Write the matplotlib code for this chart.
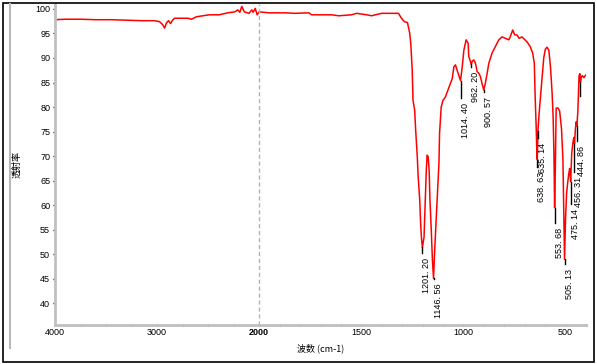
import numpy as np
import matplotlib
matplotlib.use('Agg')
import matplotlib.pyplot as plt
from matplotlib.ticker import FixedLocator, FixedFormatter
from matplotlib.patches import Rectangle
from matplotlib.lines import Line2D

# IR spectrum (wavenumber cm-1, transmittance %)
wavenumber = [4000, 3900, 3750, 3600, 3450, 3300, 3150, 3024, 2976, 2946, 2927, 2907, 2888,
              2868, 2849, 2829, 2700, 2663, 2615, 2488, 2390, 2310, 2240, 2210, 2190, 2171,
              2146, 2100, 2073, 2060, 2039, 2020, 2000, 1952, 1874, 1826, 1757, 1743, 1645,
              1611, 1548, 1523, 1474, 1450, 1401, 1318, 1304, 1289, 1274, 1270, 1263, 1258,
              1251, 1247, 1239, 1234, 1226, 1222, 1214, 1210, 1206, 1201.2, 1193, 1190, 1187,
              1182, 1178, 1173, 1168, 1164, 1157, 1152, 1146.56, 1141, 1133, 1125, 1120, 1117,
              1109, 1100, 1089, 1071, 1055, 1047, 1039, 1031, 1023, 1014.4, 1006, 998, 987,
              977, 974, 966, 962.2, 956, 949, 941, 933, 925, 917, 909, 900.57, 893, 884, 876,
              860, 844, 827, 811, 795, 778, 771, 759, 749, 738, 727, 714, 689, 673, 661, 653,
              649, 644, 641, 638.63, 637, 635.14, 630, 624, 615, 607, 599, 591, 582, 574, 566,
              561, 557, 553.68, 550, 546, 537, 529, 520, 513, 508, 505.13, 500, 495, 490, 484,
              480, 475.14, 470, 464, 459, 456.31, 452, 448, 444.86, 440, 434, 430, 427, 423,
              418, 410, 402]
transmittance = [97.8, 97.9, 97.9, 97.8, 97.8, 97.7, 97.6, 97.6, 97.4, 96.8, 96.1, 97.2, 97.6,
                 97.0, 97.7, 98.1, 98.1, 97.9, 98.4, 98.8, 98.8, 99.2, 99.4, 99.8, 99.3, 100.5,
                 99.4, 99.1, 99.8, 99.3, 100.1, 98.8, 99.4, 99.2, 99.2, 99.1, 99.2, 98.8, 98.8,
                 98.6, 98.8, 99.1, 98.8, 98.6, 99.1, 99.1, 98.1, 97.4, 97.2, 96.4, 95.0, 93.0,
                 87.6, 81.4, 79.4, 75.3, 69.8, 66.0, 61.0, 56.6, 53.5, 51.4, 53.5, 57.6, 61.0,
                 67.1, 70.2, 69.9, 67.1, 61.0, 54.3, 48.8, 45.1, 50.8, 57.6, 64.5, 68.6, 74.7,
                 80.0, 81.4, 82.0, 84.0, 85.8, 88.2, 88.6, 87.5, 86.5, 85.4, 88.2, 91.6, 93.7,
                 93.0, 90.3, 89.3, 88.7, 89.4, 89.6, 88.9, 87.2, 86.9, 86.2, 84.8, 83.5, 84.8,
                 86.9, 88.9, 91.0, 92.3, 93.7, 94.3, 94.0, 93.7, 94.3, 95.7, 94.7, 94.7, 94.0,
                 94.3, 93.3, 92.3, 91.0, 88.9, 82.1, 76.0, 71.5, 69.3, 72.0, 75.2, 78.5, 81.4,
                 86.0, 90.0, 91.8, 92.2, 91.6, 88.2, 82.9, 78.0, 70.6, 59.5, 68.0, 79.8, 79.8,
                 79.2, 75.6, 69.4, 56.0, 49.0, 57.5, 62.4, 64.5, 66.5, 67.5, 64.8, 70.5, 72.8,
                 73.8, 72.5, 75.5, 77.0, 76.2, 79.0, 86.4, 86.8, 85.1, 86.1, 86.4, 86.0, 86.5]

# labelled peaks
peak_wn = [1201.2, 1146.56, 1014.4, 962.2, 900.57, 638.63, 635.14, 553.68, 505.13,
           475.14, 456.31, 444.86]
peak_labels = ['1201. 20', '1146. 56', '1014. 40', '962. 20', '900. 57', '638. 63', '635. 14',
               '553. 68', '505. 13', '475. 14', '456. 31', '444. 86']
# where each label starts (top end of the rotated text), in transmittance units
label_y = [49.3, 44.0, 80.8, 87.2, 82.0, 66.8, 72.7, 55.4, 47.0, 59.3, 65.8, 72.1]

x_ticks = [4000, 3000, 2000, 1500, 1000, 500]
x_minor = [3750, 3500, 3250, 2750, 2500, 2250] + [w for w in range(1900, 399, -100) if w % 500]
y_ticks = list(range(40, 101, 5))


# spectrometer style axis: 4000-2000 at half the scale of 2000-400
def fwd(w):
    w = np.asarray(w, dtype=float)
    return np.where(w >= 2000, (w - 4000) * 0.5, w - 3000)


def inv(p):
    p = np.asarray(p, dtype=float)
    return np.where(p >= -1000, 4000 + 2 * p, p + 3000)


plt.rcParams['font.family'] = ['Liberation Sans', 'DejaVu Sans']
cjk = ['Noto Sans CJK SC', 'DejaVu Sans']

fig = plt.figure(figsize=(5.97, 3.64), dpi=100)
ax = fig.add_axes([55 / 597, 39 / 364, 531 / 597, 321 / 364])
ax.set_xscale('function', functions=(fwd, inv))
ax.set_xlim(4000, 400)
ax.set_ylim(35.6, 101)

ax.plot(wavenumber, transmittance, color='#ff0000', lw=1.1)
ax.axvline(2000, color='#b4b4b4', lw=1, dashes=(3, 2))

# peak markers and labels
px_per_unit = 321 / (101 - 35.6)
for w, lab, ly in zip(peak_wn, peak_labels, label_y):
    t = np.interp(w, wavenumber[::-1], transmittance[::-1])
    ax.plot([w, w], [t, ly + 5 / px_per_unit], color='black', lw=1)
    ax.text(w, ly, lab, rotation=90, ha='left', va='top', fontsize=6.5, color='black')

# unlabeled marker at the right edge
t = np.interp(427, wavenumber[::-1], transmittance[::-1])
ax.plot([427, 427], [t, t - 14 / px_per_unit], color='black', lw=1)

ax.xaxis.set_major_locator(FixedLocator(x_ticks))
ax.xaxis.set_major_formatter(FixedFormatter([str(v) for v in x_ticks]))
ax.xaxis.set_minor_locator(FixedLocator(x_minor))
ax.yaxis.set_major_locator(FixedLocator(y_ticks))
ax.yaxis.set_major_formatter(FixedFormatter([str(v) for v in y_ticks]))

for s in ['top', 'right']:
    ax.spines[s].set_visible(False)
for s in ['left', 'bottom']:
    ax.spines[s].set_color('#c0c0c0')
    ax.spines[s].set_linewidth(2)

ax.tick_params(axis='x', which='both', direction='inout', length=2, width=1,
               color='black', labelsize=6.5, pad=1.5)
ax.tick_params(axis='y', which='both', direction='out', length=1.5, width=1,
               color='black', labelsize=6.5, pad=2)
# 2000 is printed twice (once per axis half) in the original, so it looks heavier
ax.get_xticklabels()[2].set_fontweight('bold')

ax.set_xlabel('波数 (cm-1)', fontsize=6.5, family=cjk)
ax.xaxis.set_label_coords(0.5, -18 / 321)
ax.set_ylabel('透射率', fontsize=6.5, family=cjk)
ax.yaxis.set_label_coords(-34 / 531, 0.5)

# window frame
fig.add_artist(Rectangle((2.5 / 597, 2 / 364), 591 / 597, 359 / 364, transform=fig.transFigure,
                         fill=False, edgecolor='black', lw=1.2))
fig.add_artist(Line2D([10 / 597, 10 / 597], [16 / 364, 360 / 364], transform=fig.transFigure,
                      color='#b8b8b8', lw=1.5))

fig.savefig('out.png', dpi=100)
